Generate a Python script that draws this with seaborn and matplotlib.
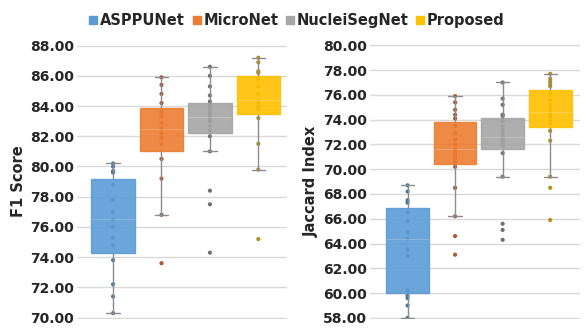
import numpy as np
import pandas as pd
import matplotlib
matplotlib.use('Agg')
import matplotlib.pyplot as plt
import seaborn as sns
from matplotlib.lines import Line2D

# methods and colours (Excel office palette)
methods = ['ASPPUNet', 'MicroNet', 'NucleiSegNet', 'Proposed']
box_colors = ['#5B9BD5', '#ED7D31', '#A5A5A5', '#FFC000']
dot_colors = ['#44789f', '#a9592a', '#707070', '#b58e1c']

# F1 score samples per method
f1_asppunet = [70.3, 71.4, 72.2, 73.8, 74.8, 75.3, 76.0, 76.5, 77.0, 77.8, 78.8, 79.6, 79.7, 80.0, 80.2]
f1_micronet = [73.6, 76.8, 79.2, 80.5, 81.5, 81.9, 82.2, 82.5, 82.9, 83.3, 83.6, 84.2, 84.8, 85.4, 85.9]
f1_nucleisegnet = [74.3, 77.5, 78.4, 81.0, 82.0, 82.4, 82.7, 83.0, 83.2, 83.3,
                   83.5, 83.7, 83.9, 84.1, 84.3, 84.7, 85.3, 86.0, 86.6]
f1_proposed = [75.2, 79.8, 81.5, 83.2, 83.8, 84.0, 84.2, 84.4, 84.8, 85.3, 85.8, 86.2, 86.3, 86.9, 87.2]

# Jaccard index samples per method
jac_asppunet = [58.0, 59.0, 59.6, 59.8, 60.2, 63.0, 63.5, 64.4, 64.9, 65.8, 66.5, 67.3, 67.5, 68.2, 68.7]
jac_micronet = [63.1, 64.6, 66.2, 68.5, 70.2, 70.6, 70.9, 71.1, 71.3, 71.6,
                72.0, 72.4, 72.9, 73.5, 74.1, 74.4, 74.8, 75.4, 75.9]
jac_nucleisegnet = [64.3, 65.1, 65.6, 69.4, 71.3, 71.9, 72.1, 72.3, 72.5, 72.6,
                    72.9, 73.2, 73.5, 73.9, 74.3, 74.4, 75.2, 75.7, 77.0]
jac_proposed = [65.9, 68.5, 69.4, 72.3, 73.1, 73.7, 73.9, 74.2, 74.4, 74.6,
                74.9, 75.2, 75.6, 76.1, 76.7, 76.9, 77.1, 77.3, 77.7]


def to_frame(groups):
    rows = []
    for m, vals in zip(methods, groups):
        for v in vals:
            rows.append((m, v))
    return pd.DataFrame(rows, columns=['method', 'value'])


f1_df = to_frame([f1_asppunet, f1_micronet, f1_nucleisegnet, f1_proposed])
jac_df = to_frame([jac_asppunet, jac_micronet, jac_nucleisegnet, jac_proposed])

sns.set_style('white')
plt.rcParams['font.family'] = ['DejaVu Sans']
plt.rcParams['font.weight'] = 'bold'
plt.rcParams['axes.labelweight'] = 'bold'

fig, axes = plt.subplots(1, 2, figsize=(5.86, 3.29), dpi=100)
fig.subplots_adjust(left=0.131, right=0.99, top=0.866, bottom=0.03, wspace=0.39)

box_pal = dict(zip(methods, box_colors))
dot_pal = dict(zip(methods, dot_colors))

panels = [
    (axes[0], f1_df, 'F1 Score', (69.9, 88.1), np.arange(70, 88.1, 2), (-0.75, 3.6)),
    (axes[1], jac_df, 'Jaccard Index', (57.9, 80.1), np.arange(58, 80.1, 2), (-0.8, 3.63)),
]

for ax, df, label, ylim, ticks, xlim in panels:
    for t in ticks:
        ax.axhline(t, color='#d9d9d9', lw=1, zorder=0)
    # dots first, boxes drawn over them so inner points look faint like Excel
    sns.stripplot(data=df, x='method', y='value', hue='method', order=methods,
                  palette=dot_pal, jitter=False, size=3, legend=False, ax=ax, zorder=1.5)
    n_before = len(ax.lines)
    sns.boxplot(data=df, x='method', y='value', hue='method', order=methods,
                palette=box_pal, saturation=1, width=0.9, showfliers=False,
                legend=False, linewidth=1, ax=ax,
                whiskerprops=dict(color='#8c8c8c'), capprops=dict(color='#8c8c8c'),
                medianprops=dict(color='#ffffff', alpha=0.2, lw=0.8))
    for p, c in zip(ax.patches, box_colors):
        p.set_edgecolor(c)
        p.set_alpha(0.9)
        p.set_zorder(2)
    # narrower whisker caps
    for ln in ax.lines[n_before:]:
        xs, ys = np.asarray(ln.get_xdata(), float), np.asarray(ln.get_ydata(), float)
        if len(xs) == 2 and ys[0] == ys[1] and abs(xs[1] - xs[0]) < 0.6:
            mid = xs.mean()
            ln.set_xdata([mid - 0.14, mid + 0.14])
    ax.set_ylim(*ylim)
    ax.set_xlim(*xlim)
    ax.set_yticks(ticks)
    ax.set_yticklabels([f'{t:.2f}' for t in ticks], fontsize=10, fontweight='bold')
    ax.set_xticks([])
    ax.set_xlabel('')
    ax.set_ylabel(label, fontsize=10.5, fontweight='bold', labelpad=3)
    ax.tick_params(axis='y', length=0, pad=2)
    sns.despine(ax=ax, left=True, bottom=True)

handles = [Line2D([0], [0], marker='s', color='w', markerfacecolor=c,
                  markeredgecolor=c, markersize=6) for c in box_colors]
fig.legend(handles, methods, loc='upper center', bbox_to_anchor=(0.505, 1.0), ncol=4,
           frameon=False, handletextpad=0.05, columnspacing=0.4, handlelength=0.8,
           prop=dict(size=10.5, weight='bold'))

fig.savefig('out.png', dpi=100)
